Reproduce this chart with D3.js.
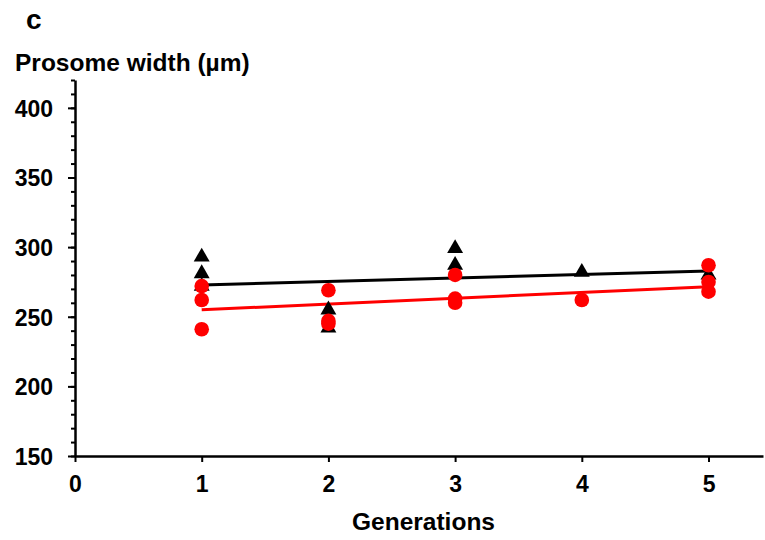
<!DOCTYPE html>
<html><head><meta charset="utf-8">
<script src="https://cdn.jsdelivr.net/npm/d3@7"></script>
<style>body{margin:0;background:#fff}svg{display:block}text{font-family:"Liberation Sans",Arial,sans-serif;font-weight:bold;fill:#000}</style>
</head><body><svg id="c" width="765" height="540"></svg>
<script>
// Data
const generations = [1, 2, 3, 4, 5];
const blackX = [1, 1, 1, 2, 2, 3, 3, 4, 5];
const blackY = [293, 281, 272, 255, 242, 299, 287, 282, 280];
const redX = [1, 1, 1, 2, 2, 2, 3, 3, 3, 4, 5, 5, 5];
const redY = [272, 262, 241, 269, 247, 245, 280, 263, 260, 262, 287, 275, 268];
const blackTrendX = [1, 5];
const blackTrendY = [272.8, 282.8];
const redTrendX = [1, 5];
const redTrendY = [255, 271.6];
const yTicks = [150, 200, 250, 300, 350, 400];
const xTicks = [0, 1, 2, 3, 4, 5];

const svg = d3.select("#c");
const x = d3.scaleLinear().domain([0, 5.43]).range([75, 763]);
const y = d3.scaleLinear().domain([150, 420]).range([456, 80]);

// y minor ticks
const yAxisMinor = d3.axisLeft(y).tickValues(d3.range(150, 421, 10)).tickSize(4).tickFormat("");
const gm = svg.append("g").attr("transform", "translate(75,0)").call(yAxisMinor);
gm.select(".domain").remove();
gm.selectAll("line").attr("stroke", "#000").attr("stroke-width", 2);

const yAxis = d3.axisLeft(y).tickValues(yTicks).tickSize(7).tickPadding(15).tickSizeOuter(0);
const gy = svg.append("g").attr("transform", "translate(75,0)").call(yAxis);
gy.select(".domain").attr("stroke", "#000").attr("stroke-width", 2.5);
gy.selectAll("line").attr("stroke", "#000").attr("stroke-width", 2);
gy.selectAll("text").attr("font-size", 23).attr("dy", "0.36em");

const xAxis = d3.axisBottom(x).tickValues(xTicks).tickFormat(d3.format("d")).tickSize(6).tickPadding(14).tickSizeOuter(0);
const gx = svg.append("g").attr("transform", "translate(0,456)").call(xAxis);
gx.select(".domain").attr("stroke", "#000").attr("stroke-width", 2.5);
gx.selectAll("line").attr("stroke", "#000").attr("stroke-width", 2);
gx.selectAll("text").attr("font-size", 23);

// labels
svg.append("text").attr("x", 26).attr("y", 29).attr("font-size", 28).text("c");
svg.append("text").attr("x", 15).attr("y", 71).attr("font-size", 24.5).text("Prosome width (µm)");
svg.append("text").attr("x", 423.5).attr("y", 530).attr("text-anchor", "middle").attr("font-size", 24.5).text("Generations");

// trend lines
const line = d3.line().x(d => x(d[0])).y(d => y(d[1]));
svg.append("path").datum(d3.zip(blackTrendX, blackTrendY)).attr("d", line)
  .attr("stroke", "#000").attr("stroke-width", 3).attr("fill", "none");
svg.append("path").datum(d3.zip(redTrendX, redTrendY)).attr("d", line)
  .attr("stroke", "#ff0000").attr("stroke-width", 3).attr("fill", "none");

// markers
const tri = d3.symbol().type(d3.symbolTriangle).size(110);
svg.append("g").selectAll("path").data(d3.zip(blackX, blackY)).join("path")
  .attr("d", tri).attr("transform", d => `translate(${x(d[0])},${y(d[1])})`).attr("fill", "#000");
svg.append("g").selectAll("circle").data(d3.zip(redX, redY)).join("circle")
  .attr("cx", d => x(d[0])).attr("cy", d => y(d[1])).attr("r", 7.3).attr("fill", "#ff0000");
</script></body></html>
